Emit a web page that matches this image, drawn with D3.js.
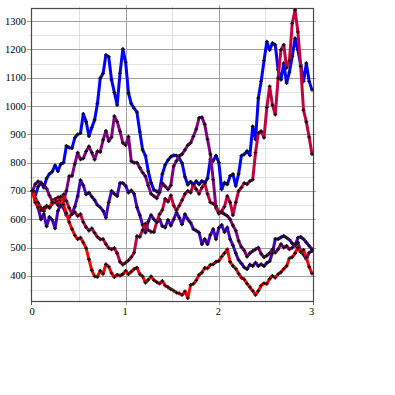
<!DOCTYPE html>
<html>
<head>
<meta charset="utf-8">
<script src="https://cdn.jsdelivr.net/npm/d3@7"></script>
<style>
  body { margin: 0; background: #fff; }
  svg { display: block; }
</style>
</head>
<body>
<div id="chart"></div>
<script>
// 100 steps from 0 to 3
const nPoints = 100;
const xMax = 3;

const blueVals = [700,685,715,730,712,745,760,768,790,770, 795,800,859,853,851,888,900,904,972,945,
  894,924,951,1008,1098,1115,1180,1174,1092,1048, 1004,1115,1201,1154,1045,1008,992,978,909,845,
  825,770,729,704,698,700,760,792,809,821, 826,825,815,798,750,722,733,720,735,723,
  735,729,744,812,806,825,800,706,729,723, 753,759,718,760,825,829,841,826,928,882,
  1028,1087,1160,1227,1198,1222,1216,1128,1093,1151, 1081,1120,1175,1239,1198,1145,1087,1151,1087,1057];

const indigoVals = [700,665,640,600,618,575,608,598,568,630, 652,640,614,606,622,645,682,738,720,688,
  694,680,668,650,642,630,606,660,700,690, 682,728,728,718,694,702,690,642,615,580,
  553,592,615,600,590,600,576,571,598,578, 600,624,606,582,618,600,588,565,560,553,
  512,530,512,545,565,530,570,580,555,571, 530,508,480,456,444,430,424,440,435,447,
  435,441,435,446,452,482,530,530,536,541, 535,528,515,506,535,538,530,518,506,494];

const purpleVals = [700,724,734,726,720,708,684,665,670,660, 672,664,700,752,753,796,835,812,815,840,
  857,835,811,840,838,880,912,876,890,964, 945,910,870,862,892,805,800,800,782,765,
  752,720,690,682,674,694,728,716,706,720, 788,806,824,830,845,862,870,893,918,958,
  960,935,882,830,740,640,620,624,618,612, 600,578,560,524,502,490,468,480,488,494,
  500,478,466,472,480,494,482,494,512,500, 506,494,500,512,518,488,475,459,482,488];

const crimsonVals = [700,675,658,640,628,648,640,655,662,650, 668,688,665,640,618,625,612,618,590,572,
  560,568,552,538,529,530,512,498,494,498, 480,450,440,447,455,466,482,540,538,562,
  585,562,556,555,590,618,632,672,662,684, 648,632,648,668,690,700,694,724,706,690,
  712,728,690,660,655,647,624,628,645,682, 660,615,660,700,712,728,724,735,740,835,
  905,911,888,995,1069,1003,970,1098,1198,1216, 1135,1160,1292,1339,1262,1140,985,944,890,830];

const redVals = [700,659,643,632,640,645,643,660,671,677, 680,653,622,590,565,543,530,535,518,498,
  458,420,398,397,418,407,441,433,410,396, 404,401,406,418,406,415,424,429,406,398,
  376,386,398,385,378,373,382,366,360,353, 348,341,338,333,345,322,368,372,384,404,
  412,428,427,439,441,450,453,468,480,494, 450,435,426,408,394,388,373,360,347,333,
  347,366,374,372,390,400,394,406,413,425, 435,462,466,480,500,484,492,465,432,408];

const seriesNames = ["blue", "indigo", "purple", "crimson", "red"];
const seriesColors = ["#0000ff", "#4400c0", "#800080", "#c00040", "#ff0000"];
const seriesVals = [blueVals, indigoVals, purpleVals, crimsonVals, redVals];

const xTickVals = [0, 1, 2, 3];
const yTickVals = [400, 500, 600, 700, 800, 900, 1000, 1100, 1200, 1300];

const width = 395, height = 395;
const frame = {left: 31, right: 313, top: 8, bottom: 301};

const svg = d3.select("#chart").append("svg")
  .attr("width", width)
  .attr("height", height);

const allVals = seriesVals.flat();
const x = d3.scaleLinear().domain([0, xMax]).range([32.5, 312]);
const y = d3.scaleLinear().domain(d3.extent(allVals)).range([298, 10]);

const xs = d3.range(nPoints).map(i => i * xMax / (nPoints - 1));

// grid: minor first, then major
const grid = svg.append("g");
const minorY = d3.range(350, 1340, 100);
const minorX = [0.5, 1.5, 2.5];

grid.selectAll(".minorY").data(minorY).enter().append("line")
  .attr("x1", frame.left - 2).attr("x2", frame.right + 2)
  .attr("y1", d => Math.round(y(d)) + 0.5).attr("y2", d => Math.round(y(d)) + 0.5)
  .attr("stroke", "#e2e2e2");
grid.selectAll(".minorX").data(minorX).enter().append("line")
  .attr("x1", d => Math.round(x(d)) + 0.5).attr("x2", d => Math.round(x(d)) + 0.5)
  .attr("y1", frame.top - 2).attr("y2", frame.bottom + 2)
  .attr("stroke", "#e2e2e2");
grid.selectAll(".majorY").data(yTickVals).enter().append("line")
  .attr("x1", frame.left - 4).attr("x2", frame.right + 3)
  .attr("y1", d => Math.round(y(d)) + 0.5).attr("y2", d => Math.round(y(d)) + 0.5)
  .attr("stroke", "#a0a0a0");
grid.selectAll(".majorX").data([1, 2]).enter().append("line")
  .attr("x1", d => Math.round(x(d)) + 0.5).attr("x2", d => Math.round(x(d)) + 0.5)
  .attr("y1", frame.top - 3).attr("y2", frame.bottom + 4)
  .attr("stroke", "#a0a0a0");
grid.selectAll(".edgeTicks").data([0, 3]).enter().append("line")
  .attr("x1", d => d === 0 ? frame.left + 0.5 : frame.right + 0.5)
  .attr("x2", d => d === 0 ? frame.left + 0.5 : frame.right + 0.5)
  .attr("y1", frame.bottom).attr("y2", frame.bottom + 4)
  .attr("stroke", "#555");

// frame
svg.append("rect")
  .attr("x", frame.left + 0.5).attr("y", frame.top + 0.5)
  .attr("width", frame.right - frame.left).attr("height", frame.bottom - frame.top)
  .attr("fill", "none")
  .attr("stroke", "#4a4a4a")
  .attr("stroke-width", 1.2);

// tick labels
svg.append("g").selectAll("text").data(yTickVals).enter().append("text")
  .attr("x", 26)
  .attr("y", d => y(d) + 3.5)
  .attr("text-anchor", "end")
  .style("font-family", "'Liberation Serif', 'DejaVu Serif', serif")
  .style("font-size", "10.5px")
  .attr("fill", "#000")
  .text(d => d);

svg.append("g").selectAll("text").data(xTickVals).enter().append("text")
  .attr("x", d => x(d) - 0.5)
  .attr("y", 314.5)
  .attr("text-anchor", "middle")
  .style("font-family", "'Liberation Serif', 'DejaVu Serif', serif")
  .style("font-size", "10.5px")
  .attr("fill", "#000")
  .text(d => d);

// series
const line = d3.line()
  .x((d, i) => x(xs[i]))
  .y(d => y(d));

const marker = d3.symbol().type(d3.symbolCross).size(8);

seriesVals.forEach((vals, k) => {
  const g = svg.append("g").attr("class", "series-" + seriesNames[k]);
  g.append("path")
    .datum(vals)
    .attr("d", line)
    .attr("fill", "none")
    .attr("stroke", seriesColors[k])
    .attr("stroke-width", 3)
    .attr("stroke-linejoin", "round");
  g.selectAll("path.pt")
    .data(vals)
    .enter().append("path")
      .attr("class", "pt")
      .attr("d", marker)
      .attr("transform", (d, i) => `translate(${x(xs[i])},${y(d)})`)
      .attr("fill", "#111");
});
</script>
</body>
</html>
